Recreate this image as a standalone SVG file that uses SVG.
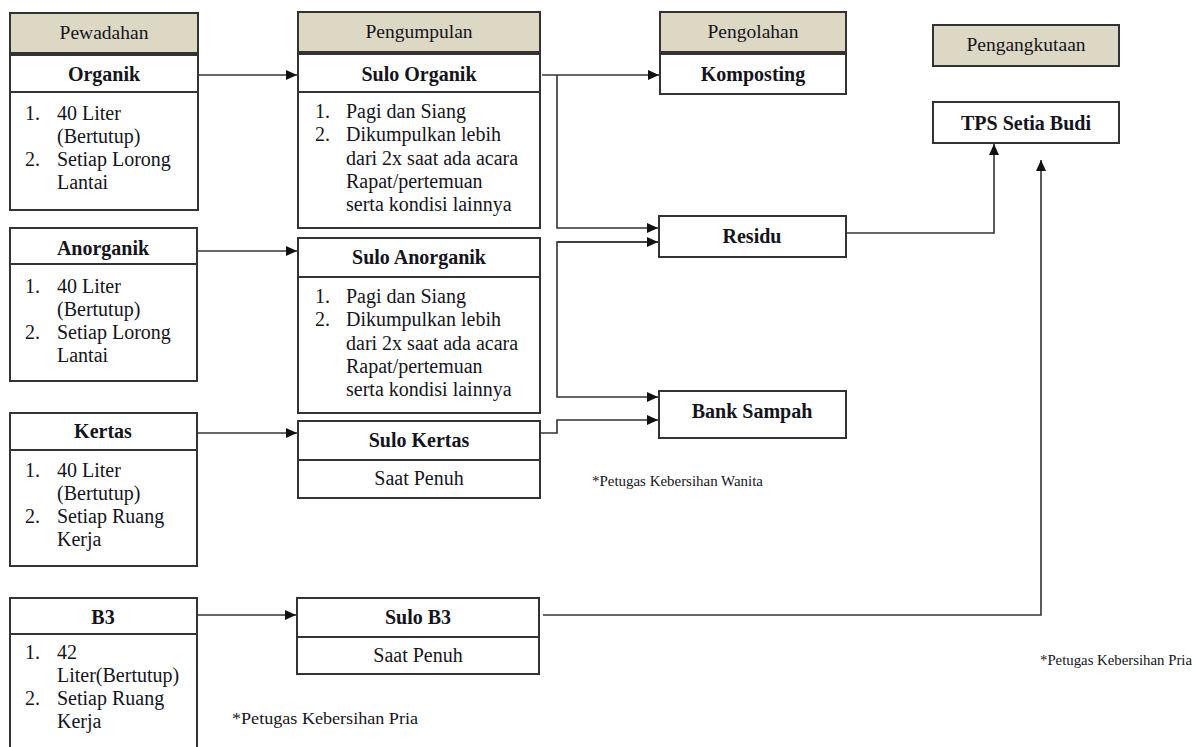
<svg xmlns="http://www.w3.org/2000/svg" width="1196" height="747" viewBox="0 0 1196 747">
<style>
text{font-family:"Liberation Serif","Times New Roman",serif;fill:#14141c}
.hd{fill:#ddd8c3;stroke:#333;stroke-width:2}
.bx{fill:#fff;stroke:#333;stroke-width:2}
.dv{stroke:#333;stroke-width:2}
.ht{font-size:19.5px;text-anchor:middle}
.tt{font-size:20px;font-weight:bold;text-anchor:middle}
.lt{font-size:20px}
.ct{font-size:20px;text-anchor:middle}
.nt{font-size:15px}
.cn{fill:none;stroke:#333;stroke-width:1.6}
</style>
<defs>
<marker id="ah" markerUnits="userSpaceOnUse" markerWidth="12" markerHeight="10" refX="11" refY="5" orient="auto">
<path d="M0,0 L11,5 L0,10 z" fill="#111"/>
</marker>
</defs>

<g id="h-pewadahan"><rect class="hd" x="10" y="13" width="188" height="40"/><text class="ht" x="104" y="39">Pewadahan</text></g>
<g id="h-pengumpulan"><rect class="hd" x="298" y="12" width="242" height="40"/><text class="ht" x="419" y="38">Pengumpulan</text></g>
<g id="h-pengolahan"><rect class="hd" x="660" y="12" width="186" height="40"/><text class="ht" x="753" y="38">Pengolahan</text></g>
<g id="h-pengangkutaan"><rect class="hd" x="933" y="25" width="186" height="41"/><text class="ht" x="1026" y="51">Pengangkutaan</text></g>

<g id="organik"><rect class="bx" x="10" y="55" width="188" height="155"/><line class="dv" x1="10" y1="92" x2="198" y2="92"/>
<text class="tt" x="104" y="81">Organik</text>
<text class="lt" x="25" y="120">1.</text><text class="lt" x="57" y="120">40 Liter</text>
<text class="lt" x="57" y="143">(Bertutup)</text>
<text class="lt" x="25" y="166">2.</text><text class="lt" x="57" y="166">Setiap Lorong</text>
<text class="lt" x="57" y="189">Lantai</text></g>

<g id="anorganik"><rect class="bx" x="10" y="228" width="187" height="153"/><line class="dv" x1="10" y1="264" x2="197" y2="264"/>
<text class="tt" x="103" y="255">Anorganik</text>
<text class="lt" x="25" y="293">1.</text><text class="lt" x="57" y="293">40 Liter</text>
<text class="lt" x="57" y="316">(Bertutup)</text>
<text class="lt" x="25" y="339">2.</text><text class="lt" x="57" y="339">Setiap Lorong</text>
<text class="lt" x="57" y="362">Lantai</text></g>

<g id="kertas"><rect class="bx" x="10" y="413" width="187" height="153"/><line class="dv" x1="10" y1="450" x2="197" y2="450"/>
<text class="tt" x="103" y="438">Kertas</text>
<text class="lt" x="25" y="477">1.</text><text class="lt" x="57" y="477">40 Liter</text>
<text class="lt" x="57" y="500">(Bertutup)</text>
<text class="lt" x="25" y="523">2.</text><text class="lt" x="57" y="523">Setiap Ruang</text>
<text class="lt" x="57" y="546">Kerja</text></g>

<g id="b3"><rect class="bx" x="10" y="598" width="187" height="170"/><line class="dv" x1="10" y1="634" x2="197" y2="634"/>
<text class="tt" x="103" y="624">B3</text>
<text class="lt" x="25" y="659">1.</text><text class="lt" x="57" y="659">42</text>
<text class="lt" x="57" y="682">Liter(Bertutup)</text>
<text class="lt" x="25" y="705">2.</text><text class="lt" x="57" y="705">Setiap Ruang</text>
<text class="lt" x="57" y="728">Kerja</text></g>

<g id="sulo-organik"><rect class="bx" x="298" y="54" width="242" height="174"/><line class="dv" x1="298" y1="92" x2="540" y2="92"/>
<text class="tt" x="419" y="81">Sulo Organik</text>
<text class="lt" x="315" y="118">1.</text><text class="lt" x="346" y="118">Pagi dan Siang</text>
<text class="lt" x="315" y="141">2.</text><text class="lt" x="346" y="141">Dikumpulkan lebih</text>
<text class="lt" x="346" y="165">dari 2x saat ada acara</text>
<text class="lt" x="346" y="188">Rapat/pertemuan</text>
<text class="lt" x="346" y="211">serta kondisi lainnya</text></g>

<g id="sulo-anorganik"><rect class="bx" x="298" y="238" width="242" height="175"/><line class="dv" x1="298" y1="277" x2="540" y2="277"/>
<text class="tt" x="419" y="264">Sulo Anorganik</text>
<text class="lt" x="315" y="303">1.</text><text class="lt" x="346" y="303">Pagi dan Siang</text>
<text class="lt" x="315" y="326">2.</text><text class="lt" x="346" y="326">Dikumpulkan lebih</text>
<text class="lt" x="346" y="350">dari 2x saat ada acara</text>
<text class="lt" x="346" y="373">Rapat/pertemuan</text>
<text class="lt" x="346" y="396">serta kondisi lainnya</text></g>

<g id="sulo-kertas"><rect class="bx" x="298" y="421" width="242" height="77"/><line class="dv" x1="298" y1="460" x2="540" y2="460"/>
<text class="tt" x="419" y="447">Sulo Kertas</text>
<text class="ct" x="419" y="485">Saat Penuh</text></g>

<g id="sulo-b3"><rect class="bx" x="297" y="598" width="242" height="76"/><line class="dv" x1="297" y1="637" x2="539" y2="637"/>
<text class="tt" x="418" y="624">Sulo B3</text>
<text class="ct" x="418" y="662">Saat Penuh</text></g>

<g id="komposting"><rect class="bx" x="660" y="54" width="186" height="40"/><text class="tt" x="753" y="81">Komposting</text></g>
<g id="residu"><rect class="bx" x="659" y="216" width="187" height="41"/><text class="tt" x="752" y="243">Residu</text></g>
<g id="bank-sampah"><rect class="bx" x="659" y="391" width="187" height="47"/><text class="tt" x="752" y="418">Bank Sampah</text></g>
<g id="tps"><rect class="bx" x="933" y="102" width="186" height="41"/><text class="tt" x="1026" y="130">TPS Setia Budi</text></g>

<g id="connectors">
<path class="cn" d="M198,75 H297" marker-end="url(#ah)"/>
<path class="cn" d="M542,75 H659" marker-end="url(#ah)"/>
<path class="cn" d="M557,75 V228 H658" marker-end="url(#ah)"/>
<path class="cn" d="M658,242 H557 V397 H658" marker-end="url(#ah)"/>
<path class="cn" d="M557,242 H658" marker-end="url(#ah)"/>
<path class="cn" d="M197,251 H297" marker-end="url(#ah)"/>
<path class="cn" d="M197,433 H297" marker-end="url(#ah)"/>
<path class="cn" d="M540,433 H557 V420 H658" marker-end="url(#ah)"/>
<path class="cn" d="M197,615 H296" marker-end="url(#ah)"/>
<path class="cn" d="M543,615 H1041 V160" marker-end="url(#ah)"/>
<path class="cn" d="M846,233 H994 V144" marker-end="url(#ah)"/>
</g>

<g id="notes">
<text class="nt" x="592" y="486" textLength="171" lengthAdjust="spacingAndGlyphs">*Petugas Kebersihan Wanita</text>
<text class="nt" x="1040" y="665" textLength="152" lengthAdjust="spacingAndGlyphs">*Petugas Kebersihan Pria</text>
<text class="lt" x="232" y="724" style="font-size:17px" textLength="186" lengthAdjust="spacingAndGlyphs">*Petugas Kebersihan Pria</text>
</g>
</svg>
